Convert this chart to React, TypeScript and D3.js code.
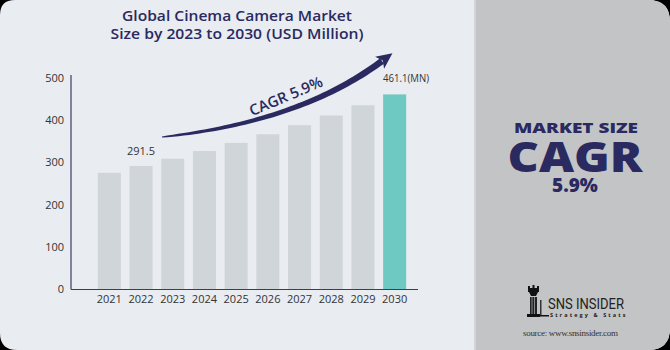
import React from "react";
import * as d3 from "d3";

const years = ["2021", "2022", "2023", "2024", "2025", "2026", "2027", "2028", "2029", "2030"];
const values = [275.3, 291.5, 308.7, 326.9, 346.2, 366.6, 388.2, 411.1, 435.4, 461.1];
const yTicks = [0, 100, 200, 300, 400, 500];
const titleLines = ["Global Cinema Camera Market", "Size by 2023 to 2030 (USD Million)"];
const titleWidths = [230, 253];
const cagrText = "CAGR 5.9%";

const W = 670, H = 350;
const NAVY = "#2a2960";

function roundedPath(x0: number, y0: number, x1: number, y1: number, tl: number, tr: number, br: number, bl: number) {
  return `M${x0 + tl},${y0} L${x1 - tr},${y0} Q${x1},${y0} ${x1},${y0 + tr} L${x1},${y1 - br} Q${x1},${y1} ${x1 - br},${y1} L${x0 + bl},${y1} Q${x0},${y1} ${x0},${y1 - bl} L${x0},${y0 + tl} Q${x0},${y0} ${x0 + tl},${y0} Z`;
}

export default function App() {
  const x = d3.scaleBand<string>().domain(years).range([86, 418]).paddingInner(0.274).paddingOuter(0.373);
  const y = d3.scaleLinear().domain([0, 500]).range([289, 78]);

  // swoosh arrow (decorative)
  const p0 = [162, 137], c = [300, 122], p1 = [382, 61];
  const N = 50;
  const upper: [number, number][] = [];
  const lower: [number, number][] = [];
  for (let i = 0; i <= N; i++) {
    const t = i / N;
    const px = (1 - t) * (1 - t) * p0[0] + 2 * (1 - t) * t * c[0] + t * t * p1[0];
    const py = (1 - t) * (1 - t) * p0[1] + 2 * (1 - t) * t * c[1] + t * t * p1[1];
    const dx = 2 * (1 - t) * (c[0] - p0[0]) + 2 * t * (p1[0] - c[0]);
    const dy = 2 * (1 - t) * (c[1] - p0[1]) + 2 * t * (p1[1] - c[1]);
    const len = Math.hypot(dx, dy);
    const nx = -dy / len, ny = dx / len;
    const hw = 0.5 + 2.8 * Math.sqrt(t);
    upper.push([px - nx * hw, py - ny * hw]);
    lower.push([px + nx * hw, py + ny * hw]);
  }
  const swoosh = "M" + upper.map(p => p.join(",")).join("L") + "L" + lower.reverse().map(p => p.join(",")).join("L") + "Z";
  const ang = Math.atan2(p1[1] - c[1], p1[0] - c[0]);
  const ca = Math.cos(ang), sa = Math.sin(ang);
  const tip = [p1[0] + ca * 13, p1[1] + sa * 13];
  const nxh = -sa, nyh = ca;
  const head = `M${tip[0]},${tip[1]} L${p1[0] + nxh * 7.5 - ca * 3},${p1[1] + nyh * 7.5 - sa * 3} L${p1[0] + ca * 1},${p1[1] + sa * 1} L${p1[0] - nxh * 7.5 - ca * 3},${p1[1] - nyh * 7.5 - sa * 3} Z`;

  const last = years.length - 1;

  return (
    <svg width={W} height={H} style={{ position: "absolute", left: 0, top: 0 }} fontFamily="'Open Sans', sans-serif">
      <rect x={0} y={0} width={W} height={H} fill="#000" />
      <path d={roundedPath(0, 0, W, H, 15, 22, 22, 17)} fill="#e9ecf1" />
      <path d={roundedPath(474, 0, W, H, 0, 22, 22, 0)} fill="#c3c4c6" />
      <rect x={474} y={0} width={2} height={H} fill="#d3d4d6" />

      {titleLines.map((t, i) => (
        <text key={i} x={237} y={21 + i * 17.5} textAnchor="middle" fontSize={14.5} fontWeight={600} fill={NAVY}
          textLength={titleWidths[i]} lengthAdjust="spacingAndGlyphs">{t}</text>
      ))}

      {/* bars */}
      {years.map((yr, i) => (
        <rect key={yr} x={x(yr)} y={y(values[i])} width={x.bandwidth()} height={y(0) - y(values[i])}
          fill={i === last ? "#6dc9c1" : "#d0d5d9"} />
      ))}

      {/* axes */}
      <line x1={71} x2={71} y1={75} y2={289.5} stroke="#3c3b63" strokeWidth={1.2} />
      <line x1={71} x2={418} y1={289.5} y2={289.5} stroke="#3c3b63" strokeWidth={1.2} />
      {yTicks.map(t => (
        <text key={t} x={64} y={y(t) + 4} textAnchor="end" fontSize={11} fill="#333">{t}</text>
      ))}
      {years.map(yr => (
        <text key={yr} x={(x(yr) as number) + x.bandwidth() / 2} y={303} textAnchor="middle" fontSize={11} fill="#333">{yr}</text>
      ))}

      {/* value labels */}
      <text x={(x(years[1]) as number) + x.bandwidth() / 2} y={y(values[1]) - 11} textAnchor="middle" fontSize={11} fill="#333">{values[1]}</text>
      <text x={383} y={y(values[last]) - 12} fontSize={10.5} fill="#333" textLength={46} lengthAdjust="spacingAndGlyphs">{values[last]}(MN)</text>

      {/* CAGR swoosh */}
      <path d={swoosh} fill={NAVY} />
      <path d={head} fill={NAVY} />
      <text x={288} y={101} transform="rotate(-23 288 101)" textAnchor="middle" fontSize={15} fontWeight={600} fill={NAVY}>{cagrText}</text>

      {/* right panel */}
      <text x={576} y={133} textAnchor="middle" fontSize={14} fontWeight={800} fill={NAVY} textLength={124} lengthAdjust="spacingAndGlyphs">MARKET SIZE</text>
      <text x={575} y={172} textAnchor="middle" fontSize={43} fontWeight={800} fill={NAVY} textLength={135} lengthAdjust="spacingAndGlyphs">CAGR</text>
      <text x={575} y={192} textAnchor="middle" fontSize={19} fontWeight={800} fill={NAVY}>5.9%</text>

      {/* logo */}
      <g fill="#111">
        <rect x={528} y={288} width={11} height={4} />
        <rect x={528} y={286} width={2} height={3} />
        <rect x={532.5} y={285} width={2} height={4} />
        <rect x={537} y={286} width={2} height={3} />
        <path d="M529,292 L538,292 L536,296 L531,296 Z" />
        <rect x={530} y={297} width={7} height={18} fill="#222" />
        <rect x={531.5} y={297} width={1} height={18} fill="#888" />
        <rect x={534} y={297} width={1} height={18} fill="#888" />
        <rect x={527} y={314} width={13} height={3} />
        <rect x={539} y={315} width={10} height={1.5} />
        <rect x={540} y={300} width={1.5} height={15} fill="#333" />
      </g>
      <text x={548} y={309} fontSize={14} fill="#222" fontFamily="'Liberation Sans Narrow', 'Roboto', sans-serif" textLength={76} lengthAdjust="spacingAndGlyphs">SNS INSIDER</text>
      <text x={550} y={317} fontSize={5.5} fontWeight={700} fill="#222" textLength={77} letterSpacing={1.5}>Strategy &amp; Stats</text>
      <text x={523} y={336} fontSize={9} fill="#333" fontFamily="'Liberation Serif', serif" textLength={95}>source: www.snsinsider.com</text>
    </svg>
  );
}
